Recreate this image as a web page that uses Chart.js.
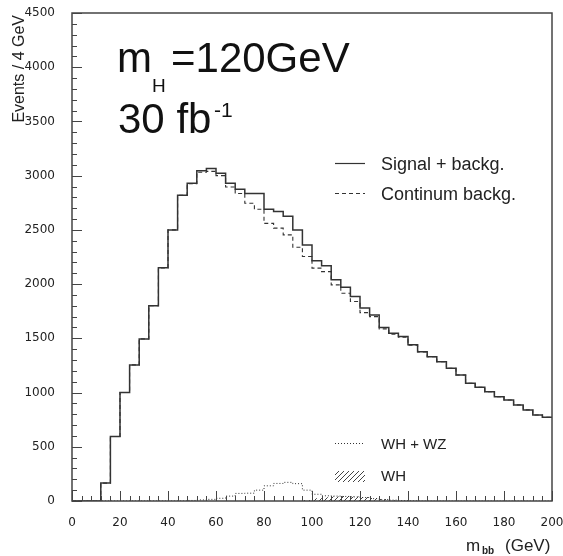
<!DOCTYPE html>
<html>
<head>
<meta charset="utf-8">
<script src="https://cdn.jsdelivr.net/npm/chart.js@4"></script>
<style>
  html,body{margin:0;padding:0;background:#fff}
  #wrap{width:563px;height:556px}
</style>
</head>
<body>
<div id="wrap"><canvas id="chart" width="563" height="556"></canvas></div>
<script>
// histogram binning (m_bb, GeV)
const binWidth = 4;
const xMin = 0, xMax = 200, xTickStep = 20;
const yMin = 0, yMax = 4500, yTickStep = 500;

// events per 4 GeV bin, 0..200 GeV (50 bins)
const signalBackg = [0,0,0,165,595,1000,1255,1495,1800,2150,
  2500,2820,2930,3045,3065,3022,2930,2875,2835,2835,
  2690,2670,2625,2500,2360,2215,2170,2040,1970,1885,
  1780,1715,1600,1547,1516,1440,1377,1331,1285,1224,
  1162,1086,1049,1008,962,932,886,840,793,772];
const continuum = [0,0,0,165,595,1000,1255,1495,1800,2150,
  2500,2820,2925,3032,3040,3000,2895,2835,2745,2690,
  2560,2516,2454,2340,2254,2147,2115,1993,1916,1839,
  1737,1700,1587,1538,1511,1437,1375,1330,1284,1224,
  1162,1086,1049,1008,962,932,886,840,793,772];
const whPlusWz = [0,0,0,0,0,0,0,0,0,0,
  0,0,5,10,15,25,45,70,72,100,
  140,162,172,160,100,62,48,45,42,38,
  32,22,14,8,4,2,0,0,0,0,
  0,0,0,0,0,0,0,0,0,0];
const whOnly = [0,0,0,0,0,0,0,0,0,0,
  0,0,0,0,0,0,0,0,0,0,
  0,0,0,0,10,25,35,42,45,42,
  38,28,18,8,0,0,0,0,0,0,
  0,0,0,0,0,0,0,0,0,0];

const ink = '#333';
const font = '"Liberation Sans", Arial, sans-serif';
const tickFont = '"DejaVu Sans", sans-serif';

function steps(vals){
  const pts = vals.map((v,i)=>({x: xMin + i*binWidth, y: v}));
  pts.push({x: xMin + vals.length*binWidth, y: vals[vals.length-1]});
  return pts;
}

function hatch(){
  const c = document.createElement('canvas'); c.width = 5; c.height = 5;
  const g = c.getContext('2d');
  g.strokeStyle = '#444'; g.lineWidth = 1;
  g.beginPath();
  g.moveTo(0,5); g.lineTo(5,0);
  g.moveTo(-1,1); g.lineTo(1,-1);
  g.moveTo(4,6); g.lineTo(6,4);
  g.stroke();
  return g.createPattern(c,'repeat');
}
const hatchFill = hatch();

function txt(ctx, s, x, y, size, weight){
  ctx.font = (weight||'') + ' ' + size + 'px ' + font;
  ctx.fillText(s, x, y);
}

// PAW-style frame, inward ticks and labels
const paw = {
  id: 'paw',
  afterDatasetsDraw(chart){
    const {ctx, chartArea: a, scales: {x, y}} = chart;
    ctx.save();
    ctx.strokeStyle = '#444'; ctx.lineWidth = 1.5;
    ctx.strokeRect(a.left, a.top, a.right - a.left, a.bottom - a.top);
    ctx.lineWidth = 1;
    ctx.beginPath();
    for(let v = yMin; v <= yMax; v += 100){
      const py = Math.round(y.getPixelForValue(v)) + 0.5;
      ctx.moveTo(a.left, py); ctx.lineTo(a.left + (v % yTickStep === 0 ? 10 : 5), py);
    }
    for(let v = xMin; v <= xMax; v += binWidth){
      const px = Math.round(x.getPixelForValue(v)) + 0.5;
      ctx.moveTo(px, a.bottom); ctx.lineTo(px, a.bottom - (v % xTickStep === 0 ? 10 : 5));
    }
    ctx.stroke();

    ctx.fillStyle = '#111';
    ctx.textBaseline = 'alphabetic'; ctx.textAlign = 'left';
    // big labels
    txt(ctx, 'm', 117, 72, 42);
    txt(ctx, 'H', 152, 92, 19);
    txt(ctx, '=120GeV', 171, 72, 42);
    txt(ctx, '30 fb', 118, 133, 42);
    txt(ctx, '-1', 214, 117, 21);

    // legend
    ctx.strokeStyle = ink; ctx.lineWidth = 1.2;
    ctx.beginPath(); ctx.moveTo(335, 163.5); ctx.lineTo(365, 163.5); ctx.stroke();
    ctx.setLineDash([4,3]);
    ctx.beginPath(); ctx.moveTo(335, 193.5); ctx.lineTo(365, 193.5); ctx.stroke();
    ctx.setLineDash([1,2]);
    ctx.beginPath(); ctx.moveTo(335, 443.5); ctx.lineTo(365, 443.5); ctx.stroke();
    ctx.setLineDash([]);
    ctx.fillStyle = hatchFill; ctx.fillRect(335, 471, 30, 11);
    ctx.fillStyle = '#222';
    txt(ctx, 'Signal + backg.', 381, 170, 18);
    txt(ctx, 'Continum backg.', 381, 200, 18);
    txt(ctx, 'WH + WZ', 381, 449, 15);
    txt(ctx, 'WH', 381, 481, 15);

    // axis titles
    txt(ctx, 'm', 466, 551, 17);
    txt(ctx, 'bb', 482, 554, 10, 'bold');
    txt(ctx, '(GeV)', 505, 551, 17);
    ctx.save();
    ctx.translate(24, 15); ctx.rotate(-Math.PI/2);
    ctx.textAlign = 'right';
    txt(ctx, 'Events / 4 GeV', 0, 0, 16);
    ctx.restore();
    ctx.restore();
  }
};

const line = (label, vals, extra) => Object.assign({
  label, data: steps(vals), stepped: true, borderColor: ink, borderWidth: 1.3,
  pointRadius: 0, fill: false
}, extra);

new Chart(document.getElementById('chart'), {
  type: 'line',
  data: {
    datasets: [
      line('Signal + backg.', signalBackg, {borderWidth: 1.5}),
      line('Continum backg.', continuum, {borderDash: [4,3], borderWidth: 1.1}),
      line('WH + WZ', whPlusWz, {borderDash: [1,2], borderWidth: 1}),
      line('WH', whOnly, {borderWidth: 0, borderColor: 'rgba(0,0,0,0)', backgroundColor: hatchFill, fill: 'origin'})
    ]
  },
  options: {
    responsive: false, animation: false, devicePixelRatio: 1,
    layout: {padding: {top: 13, right: 11, left: 0, bottom: 0}},
    plugins: {legend: {display: false}, tooltip: {enabled: false}},
    scales: {
      x: {
        type: 'linear', min: xMin, max: xMax,
        grid: {display: false}, border: {display: false},
        ticks: {stepSize: xTickStep, padding: 7, color: '#222', font: {family: tickFont, size: 12}, maxRotation: 0,
          callback: v => String(v)},
        afterFit: s => { s.height = 55; s.paddingRight = 0; s.paddingLeft = 0; }
      },
      y: {
        min: yMin, max: yMax,
        grid: {display: false}, border: {display: false},
        ticks: {stepSize: yTickStep, padding: 9, color: '#222', font: {family: tickFont, size: 12},
          callback: v => String(v)},
        afterFit: s => { s.width = 72; s.paddingTop = 0; s.paddingBottom = 0; }
      }
    }
  },
  plugins: [paw]
});
</script>
</body>
</html>
